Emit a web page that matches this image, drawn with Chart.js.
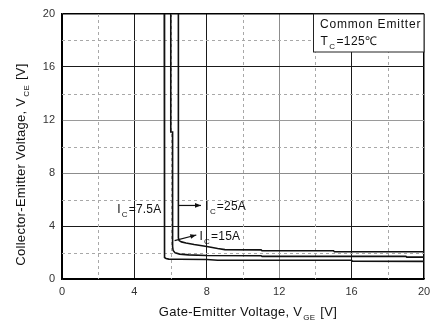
<!DOCTYPE html>
<html>
<head>
<meta charset="utf-8">
<script src="https://cdn.jsdelivr.net/npm/chart.js@4.4.1/dist/chart.umd.min.js"></script>
<style>
  html, body { margin: 0; padding: 0; background: #fff; }
  #wrap { width: 430px; height: 320px; }
</style>
</head>
<body>
<div id="wrap"><canvas id="chart" width="430" height="320"></canvas></div>
<script>
// V_CE vs V_GE transfer curves at Tc = 125 °C, one pair of arrays per collector current
const vge_7_5A = [5.65, 5.65, 5.68, 5.75, 5.9, 6.5, 8.0, 8.6, 16.0, 16.05, 20.0];
const vce_7_5A = [20.0, 1.80, 1.62, 1.55, 1.50, 1.49, 1.47, 1.42, 1.41, 1.34, 1.33];

const vge_15A = [6.01, 6.01, 6.11, 6.11, 6.14, 6.25, 6.5, 7.0, 8.0, 11.0, 11.05, 19.0, 19.05, 20.0];
const vce_15A = [20.0, 11.1, 11.1, 2.45, 2.15, 1.97, 1.88, 1.82, 1.77, 1.76, 1.71, 1.71, 1.65, 1.65];

const vge_25A = [6.43, 6.43, 6.47, 6.6, 6.85, 7.3, 8.0, 8.6, 9.0, 11.0, 11.05, 15.0, 15.05, 20.0];
const vce_25A = [20.0, 3.10, 2.90, 2.80, 2.72, 2.60, 2.45, 2.30, 2.22, 2.20, 2.13, 2.13, 2.06, 2.06];

const currentLabels = ['7.5A', '15A', '25A'];

const xTickValues = [0, 4, 8, 12, 16, 20];
const yTickValues = [0, 4, 8, 12, 16, 20];
const minorGridValues = [2, 6, 10, 14, 18];

// Callout texts and where they sit (in axis units)
const callouts = [
  { main: 'I', sub: 'C', rest: '=' + currentLabels[0], x: 3.05, y: 5.3 },
  { main: 'I', sub: 'C', rest: '=' + currentLabels[2], x: 7.92, y: 5.55 },
  { main: 'I', sub: 'C', rest: '=' + currentLabels[1], x: 7.6, y: 3.25 }
];
const arrows = [
  { from: [6.43, 5.55], to: [7.68, 5.55] },
  { from: [6.22, 2.9], to: [7.42, 3.32] }
];

const FONT = '"Liberation Sans", Arial, Helvetica, sans-serif';

function toPoints(xs, ys) {
  return xs.map((x, i) => ({ x: x, y: ys[i] }));
}

// colours of the major grid lines per tick value
const xGridColors = { 0: '#000', 4: '#1a1a1a', 8: '#1a1a1a', 12: '#8c8c8c', 16: '#1a1a1a', 20: '#000' };
const yGridColors = { 0: '#000', 4: '#1a1a1a', 8: '#8c8c8c', 12: '#9a9a9a', 16: '#1a1a1a', 20: '#000' };

function drawSubText(ctx, x, y, main, sub, rest, size, subSize, spacing) {
  // draws main + lowered subscript + rest, left aligned, y = text middle
  ctx.textBaseline = 'alphabetic';
  ctx.textAlign = 'left';
  const base = y + size * 0.36;
  ctx.font = size + 'px ' + FONT;
  ctx.letterSpacing = (spacing || 0) + 'px';
  ctx.fillText(main, x, base);
  let cx = x + ctx.measureText(main).width;
  ctx.font = subSize + 'px ' + FONT;
  ctx.fillText(sub, cx + 1, base + subSize * 0.5);
  cx += ctx.measureText(sub).width + 2;
  ctx.font = size + 'px ' + FONT;
  ctx.fillText(rest, cx, base);
  ctx.letterSpacing = '0px';
}

function measureSubText(ctx, main, sub, rest, size, subSize, spacing) {
  ctx.letterSpacing = (spacing || 0) + 'px';
  ctx.font = size + 'px ' + FONT;
  let w = ctx.measureText(main).width + ctx.measureText(rest).width;
  ctx.font = subSize + 'px ' + FONT;
  w += ctx.measureText(sub).width + 2;
  ctx.letterSpacing = '0px';
  return w;
}

const minorGridPlugin = {
  id: 'minorGrid',
  beforeDatasetsDraw(chart) {
    const { ctx, chartArea: a, scales: { x, y } } = chart;
    ctx.save();
    ctx.strokeStyle = '#a8a8a8';
    ctx.lineWidth = 1;
    ctx.setLineDash([3, 3]);
    minorGridValues.forEach(v => {
      const px = Math.round(x.getPixelForValue(v)) + 0.5;
      ctx.beginPath(); ctx.moveTo(px, a.top); ctx.lineTo(px, a.bottom); ctx.stroke();
      const py = Math.round(y.getPixelForValue(v)) + 0.5;
      ctx.beginPath(); ctx.moveTo(a.left, py); ctx.lineTo(a.right, py); ctx.stroke();
    });
    ctx.restore();
  }
};

const annotationPlugin = {
  id: 'annotations',
  afterDatasetsDraw(chart) {
    const { ctx, chartArea: a, scales: { x, y } } = chart;
    ctx.save();
    ctx.fillStyle = '#111';
    ctx.strokeStyle = '#111';
    // arrows
    arrows.forEach(ar => {
      const x0 = x.getPixelForValue(ar.from[0]), y0 = y.getPixelForValue(ar.from[1]);
      const x1 = x.getPixelForValue(ar.to[0]), y1 = y.getPixelForValue(ar.to[1]);
      const ang = Math.atan2(y1 - y0, x1 - x0);
      ctx.lineWidth = 1.2;
      ctx.beginPath(); ctx.moveTo(x0, y0); ctx.lineTo(x1, y1); ctx.stroke();
      const L = 6, W = 2.4;
      ctx.beginPath();
      ctx.moveTo(x1, y1);
      ctx.lineTo(x1 - L * Math.cos(ang) + W * Math.sin(ang), y1 - L * Math.sin(ang) - W * Math.cos(ang));
      ctx.lineTo(x1 - L * Math.cos(ang) - W * Math.sin(ang), y1 - L * Math.sin(ang) + W * Math.cos(ang));
      ctx.closePath(); ctx.fill();
    });
    // current labels
    callouts.forEach(c => {
      drawSubText(ctx, x.getPixelForValue(c.x), y.getPixelForValue(c.y), c.main, c.sub, c.rest, 12, 8, 0.2);
    });

    // condition box in the top right corner
    const bx = 313.5, by = a.top, bw = a.right - 313.5, bh = 38;
    ctx.fillStyle = '#fff';
    ctx.fillRect(bx, by, bw, bh);
    ctx.strokeStyle = '#222';
    ctx.lineWidth = 1;
    ctx.strokeRect(bx, by, bw, bh);
    ctx.fillStyle = '#111';
    ctx.font = '12px ' + FONT;
    ctx.letterSpacing = '0.8px';
    ctx.textBaseline = 'middle';
    ctx.textAlign = 'left';
    ctx.fillText('Common Emitter', 320, 25);
    ctx.letterSpacing = '0px';
    drawSubText(ctx, 320.5, 40.5, 'T', 'C', '=125\u2103', 12, 8, 0.4);

    // axis titles
    ctx.fillStyle = '#111';
    const xt = ['Gate-Emitter Voltage, V', 'GE', ' [V]'];
    const wx = measureSubText(ctx, xt[0], xt[1], xt[2], 13, 8, 0.3);
    drawSubText(ctx, 248 - wx / 2, 311, xt[0], xt[1], xt[2], 13, 8, 0.3);

    const yt = ['Collector-Emitter Voltage, V', 'CE', ' [V]'];
    const wy = measureSubText(ctx, yt[0], yt[1], yt[2], 13, 8, 0.3);
    ctx.translate(20, 164.5);
    ctx.rotate(-Math.PI / 2);
    drawSubText(ctx, -wy / 2, 0, yt[0], yt[1], yt[2], 13, 8, 0.3);
    ctx.restore();
  }
};

const lineStyle = {
  borderColor: '#111',
  borderWidth: 1.6,
  pointRadius: 0,
  tension: 0,
  fill: false
};

new Chart(document.getElementById('chart'), {
  type: 'line',
  data: {
    datasets: [
      Object.assign({ label: 'IC=' + currentLabels[0], data: toPoints(vge_7_5A, vce_7_5A) }, lineStyle),
      Object.assign({ label: 'IC=' + currentLabels[1], data: toPoints(vge_15A, vce_15A) }, lineStyle),
      Object.assign({ label: 'IC=' + currentLabels[2], data: toPoints(vge_25A, vce_25A) }, lineStyle)
    ]
  },
  options: {
    responsive: false,
    animation: false,
    devicePixelRatio: 1,
    layout: { padding: { left: 0, right: 6, top: 14, bottom: 0 } },
    plugins: { legend: { display: false }, tooltip: { enabled: false } },
    scales: {
      x: {
        type: 'linear',
        min: 0, max: 20,
        afterBuildTicks: s => { s.ticks = xTickValues.map(v => ({ value: v })); },
        ticks: { color: '#333', padding: 6, font: { family: FONT, size: 11 }, maxRotation: 0 },
        grid: {
          drawTicks: false,
          color: c => xGridColors[c.tick.value] || '#222',
          lineWidth: c => (c.tick.value === 20 ? 1.5 : 1)
        },
        border: { color: '#000', width: 1.5 },
        afterFit: s => { s.height = 41; s.paddingLeft = 0; s.paddingRight = 0; }
      },
      y: {
        type: 'linear',
        min: 0, max: 20,
        afterBuildTicks: s => { s.ticks = yTickValues.map(v => ({ value: v })); },
        ticks: { color: '#333', padding: 7, font: { family: FONT, size: 11 } },
        grid: {
          drawTicks: false,
          color: c => yGridColors[c.tick.value] || '#222',
          lineWidth: c => (c.tick.value === 20 ? 1.5 : 1)
        },
        border: { color: '#000', width: 1.5 },
        afterFit: s => { s.width = 62; s.paddingTop = 0; s.paddingBottom = 0; }
      }
    }
  },
  plugins: [minorGridPlugin, annotationPlugin]
});
</script>
</body>
</html>
